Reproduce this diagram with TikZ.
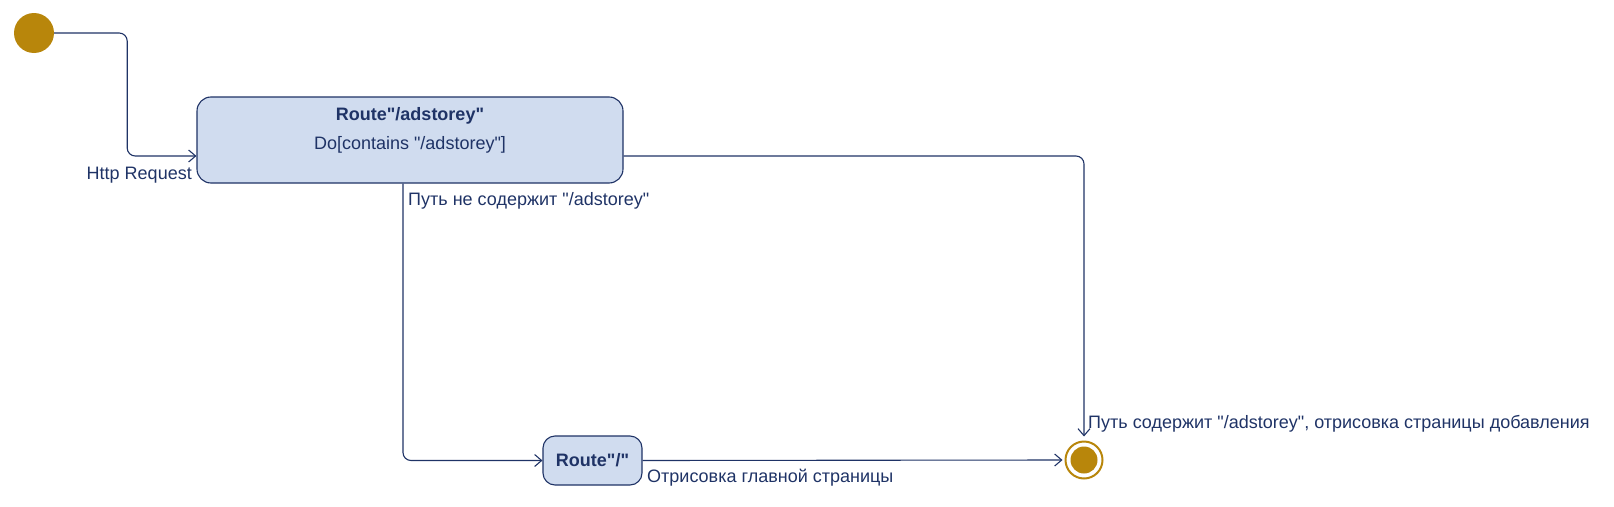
\documentclass[tikz,border=0pt]{standalone}
\usepackage{fontspec}
\setmainfont{Liberation Sans}[Ligatures=TeXOff]
\usetikzlibrary{arrows.meta}
\definecolor{umlnavy}{RGB}{31,51,102}
\definecolor{umlfill}{RGB}{208,220,239}
\definecolor{umlgold}{RGB}{184,134,11}

\begin{document}
\begin{tikzpicture}[
  x=1pt, y=-1pt,
  font=\fontsize{18}{22}\selectfont,
  every node/.style={text=umlnavy},
  state/.style={draw=umlnavy,fill=umlfill,line width=1.1pt,rounded corners=14pt,inner sep=0pt},
  startdot/.style={circle,fill=umlgold,minimum size=40pt,inner sep=0pt},
  enddot/.style={circle,draw=umlgold,line width=2pt,fill=white,minimum size=37pt,inner sep=0pt},
  flow/.style={draw=umlnavy,line width=1.1pt,rounded corners=8pt,-{Straight Barb[length=7pt,width=12pt]}},
  guard/.style={inner sep=0pt,anchor=base west}
]
  \useasboundingbox (0,0) rectangle (1614,506);

  % states
  \node[startdot] (start) at (34,33) {};
  \node[state,minimum width=426pt,minimum height=86pt] (route-ad) at (410,140) {};
  \node[anchor=base,font=\fontsize{18}{22}\selectfont\bfseries] (route-ad-title) at (410,120) {Route"/adstorey"};
  \node[anchor=base] (route-ad-do) at (410,149) {Do[contains "/adstorey"]};
  \node[state,minimum width=99pt,minimum height=49pt,rounded corners=12pt,
    font=\fontsize{18}{22}\selectfont\bfseries] (route-root) at (592.5,460.5) {Route"/"};
  \node[enddot] (final) at (1084,460) {};
  \node[circle,fill=umlgold,minimum size=27pt,inner sep=0pt] (final-dot) at (final) {};

  % transitions
  \draw[flow] (start.east) -- ++(73,0) |- ([yshift=-16pt]route-ad.west);
  \draw[flow,shorten >=4pt] ([yshift=-16pt]route-ad.east) -| (final.north);
  \draw[flow] ([xshift=-7pt]route-ad.south) |- (route-root.west);
  \draw[flow,shorten >=2pt] (route-root.east) -- (final.west);

  % guards
  \node[guard,anchor=base east] (http-label) at (192,179) {Http Request};
  \node[guard] (no-ad-label) at (408,205) {Путь не содержит "/adstorey"};
  \node[guard] (ad-label) at (1088,428) {Путь содержит "/adstorey", отрисовка страницы добавления};
  \node[guard] (root-label) at (647,482) {Отрисовка главной страницы};
\end{tikzpicture}
\end{document}
